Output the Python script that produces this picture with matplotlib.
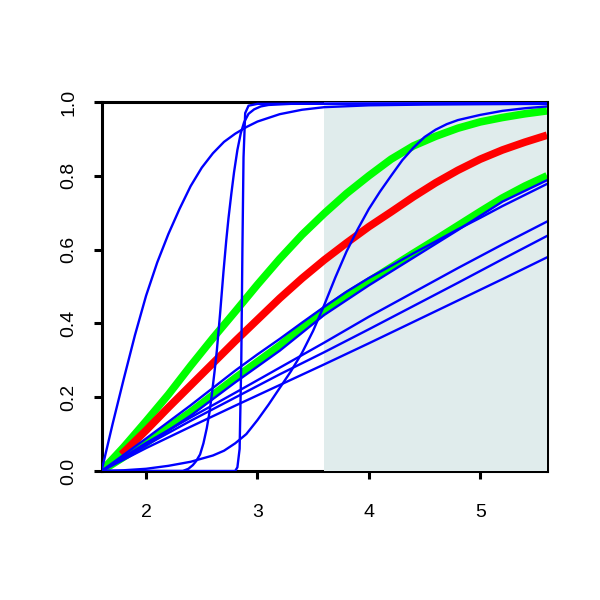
import matplotlib
matplotlib.use("Agg")
from matplotlib import pyplot as plt

# blue curves
a_x = [1.6, 1.7, 1.8, 1.9, 2.0, 2.1, 2.2, 2.3, 2.4, 2.5, 2.6, 2.7, 2.8, 2.9, 3.0, 3.2, 3.4, 3.6, 4.0, 4.5, 5.0, 5.6]
a_y = [0, 0.128, 0.25, 0.368, 0.475, 0.565, 0.642, 0.71, 0.772, 0.822, 0.861, 0.892, 0.914, 0.932, 0.947,
       0.967, 0.979, 0.986, 0.991, 0.993, 0.994, 0.995]

b_x = [1.6, 2.80, 2.82, 2.84, 2.855, 2.865, 2.875, 2.89, 2.92, 3.0, 5.6]
b_y = [0, 0, 0.01, 0.06, 0.3, 0.6, 0.85, 0.97, 0.99, 0.995, 0.997]

c_x = [1.6, 2.33, 2.38, 2.42, 2.45, 2.485, 2.515, 2.545, 2.57, 2.59, 2.615, 2.635, 2.665, 2.695, 2.72,
       2.74, 2.765, 2.79, 2.82, 2.85, 2.88, 2.92, 2.97, 3.03, 3.1, 3.3, 5.6]
c_y = [0, 0, 0.006, 0.016, 0.027, 0.045, 0.075, 0.116, 0.16, 0.206, 0.27, 0.325, 0.428, 0.54, 0.625,
       0.685, 0.75, 0.81, 0.87, 0.915, 0.945, 0.968, 0.98, 0.988, 0.992, 0.995, 0.997]

d_x = [1.6, 1.8, 2.0, 2.2, 2.4, 2.6, 2.7, 2.8, 2.9, 3.0, 3.1, 3.2, 3.3, 3.4, 3.5, 3.6, 3.7, 3.8, 3.9,
       4.0, 4.1, 4.2, 4.3, 4.4, 4.5, 4.6, 4.7, 4.8, 5.0, 5.2, 5.4, 5.6]
d_y = [0, 0.002, 0.006, 0.014, 0.025, 0.042, 0.055, 0.075, 0.1, 0.138, 0.18, 0.225, 0.27, 0.32, 0.38,
       0.45, 0.525, 0.595, 0.655, 0.71, 0.757, 0.8, 0.842, 0.876, 0.905, 0.925, 0.94, 0.951, 0.965,
       0.976, 0.983, 0.988]

e_x = [1.6, 2.0, 2.4, 2.8, 3.0, 3.2, 3.4, 3.6, 3.8, 4.0, 4.2, 4.4, 4.6, 4.8, 5.0, 5.2, 5.4, 5.6]
e_y = [0, 0.088, 0.178, 0.272, 0.316, 0.358, 0.402, 0.445, 0.486, 0.523, 0.556, 0.59, 0.622, 0.655,
       0.686, 0.718, 0.748, 0.778]

e2_x = [1.6, 2.0, 2.4, 2.8, 3.2, 3.6, 4.0, 4.4, 4.8, 5.2, 5.6]
e2_y = [0, 0.07, 0.15, 0.24, 0.326, 0.423, 0.503, 0.578, 0.653, 0.73, 0.788]

f_x = [1.6, 2.0, 2.4, 2.8, 3.2, 3.6, 4.0, 4.4, 4.8, 5.2, 5.6]
f_y = [0, 0.076, 0.145, 0.212, 0.28, 0.348, 0.418, 0.484, 0.55, 0.614, 0.676]

g_x = [1.6, 2.0, 2.4, 2.8, 3.2, 3.6, 4.0, 4.4, 4.8, 5.2, 5.6]
g_y = [0, 0.07, 0.136, 0.199, 0.262, 0.322, 0.384, 0.447, 0.51, 0.574, 0.637]

h_x = [1.6, 2.0, 2.4, 2.8, 3.2, 3.6, 4.0, 4.4, 4.8, 5.2, 5.6]
h_y = [0, 0.062, 0.12, 0.177, 0.233, 0.289, 0.346, 0.404, 0.462, 0.52, 0.579]

# red curve
red_x = [1.78, 2.0, 2.2, 2.4, 2.6, 2.8, 3.0, 3.2, 3.4, 3.6, 3.8, 4.0, 4.2, 4.4, 4.6, 4.8, 5.0, 5.2, 5.4, 5.6]
red_y = [0.045, 0.11, 0.172, 0.232, 0.292, 0.352, 0.41, 0.468, 0.522, 0.572, 0.618, 0.662, 0.702, 0.743,
         0.781, 0.815, 0.845, 0.87, 0.891, 0.91]

# green curves
g1_x = [1.6, 1.8, 2.0, 2.2, 2.4, 2.6, 2.8, 3.0, 3.2, 3.4, 3.6, 3.8, 4.0, 4.2, 4.4, 4.6, 4.8, 5.0, 5.2, 5.4, 5.6]
g1_y = [0, 0.065, 0.135, 0.207, 0.285, 0.36, 0.432, 0.505, 0.575, 0.64, 0.698, 0.752, 0.8, 0.845, 0.881,
        0.907, 0.929, 0.946, 0.958, 0.968, 0.976]

g2_x = [1.6, 2.0, 2.4, 2.8, 3.0, 3.2, 3.4, 3.6, 3.8, 4.0, 4.2, 4.4, 4.6, 4.8, 5.0, 5.2, 5.4, 5.6]
g2_y = [0, 0.076, 0.16, 0.252, 0.296, 0.34, 0.39, 0.435, 0.477, 0.514, 0.552, 0.59, 0.627, 0.665, 0.703,
        0.74, 0.772, 0.80]

blues = [(a_x, a_y), (b_x, b_y), (c_x, c_y), (d_x, d_y), (e_x, e_y), (e2_x, e2_y),
         (f_x, f_y), (g_x, g_y), (h_x, h_y)]

plt.rcParams['font.family'] = ['Liberation Sans', 'DejaVu Sans']

fig = plt.figure(figsize=(6, 6), dpi=100)
ax = fig.add_axes([0.1692, 0.215, 0.7425, 0.615])

ax.set_xlim(1.6, 5.6)
ax.set_ylim(0, 1)

for s in ax.spines.values():
    s.set_linewidth(2.2)

# shaded band covers the inner half of the box lines
ax.axvspan(3.6, 5.6, color='#e0ecec', lw=0, zorder=2.6)

ax.plot(g1_x, g1_y, color='#00ff00', lw=5.5, zorder=3, solid_capstyle='butt')
ax.plot(g2_x, g2_y, color='#00ff00', lw=5.5, zorder=3, solid_capstyle='butt')
ax.plot(red_x, red_y, color='#ff0000', lw=5.5, zorder=3, solid_capstyle='butt')
for bx, by in blues:
    ax.plot(bx, by, color='#0000ff', lw=1.7, zorder=4)

ax.set_xticks([2, 3, 4, 5])
ax.set_yticks([0, 0.2, 0.4, 0.6, 0.8, 1.0])
ax.set_yticklabels(['0.0', '0.2', '0.4', '0.6', '0.8', '1.0'])
ax.tick_params(axis='both', length=6, width=2.2, labelsize=14)
ax.tick_params(axis='x', pad=18)
ax.tick_params(axis='y', pad=11.5)
for lab in ax.get_yticklabels():
    lab.set_rotation(90)
    lab.set_va('center')

fig.savefig('out.png', dpi=100)
